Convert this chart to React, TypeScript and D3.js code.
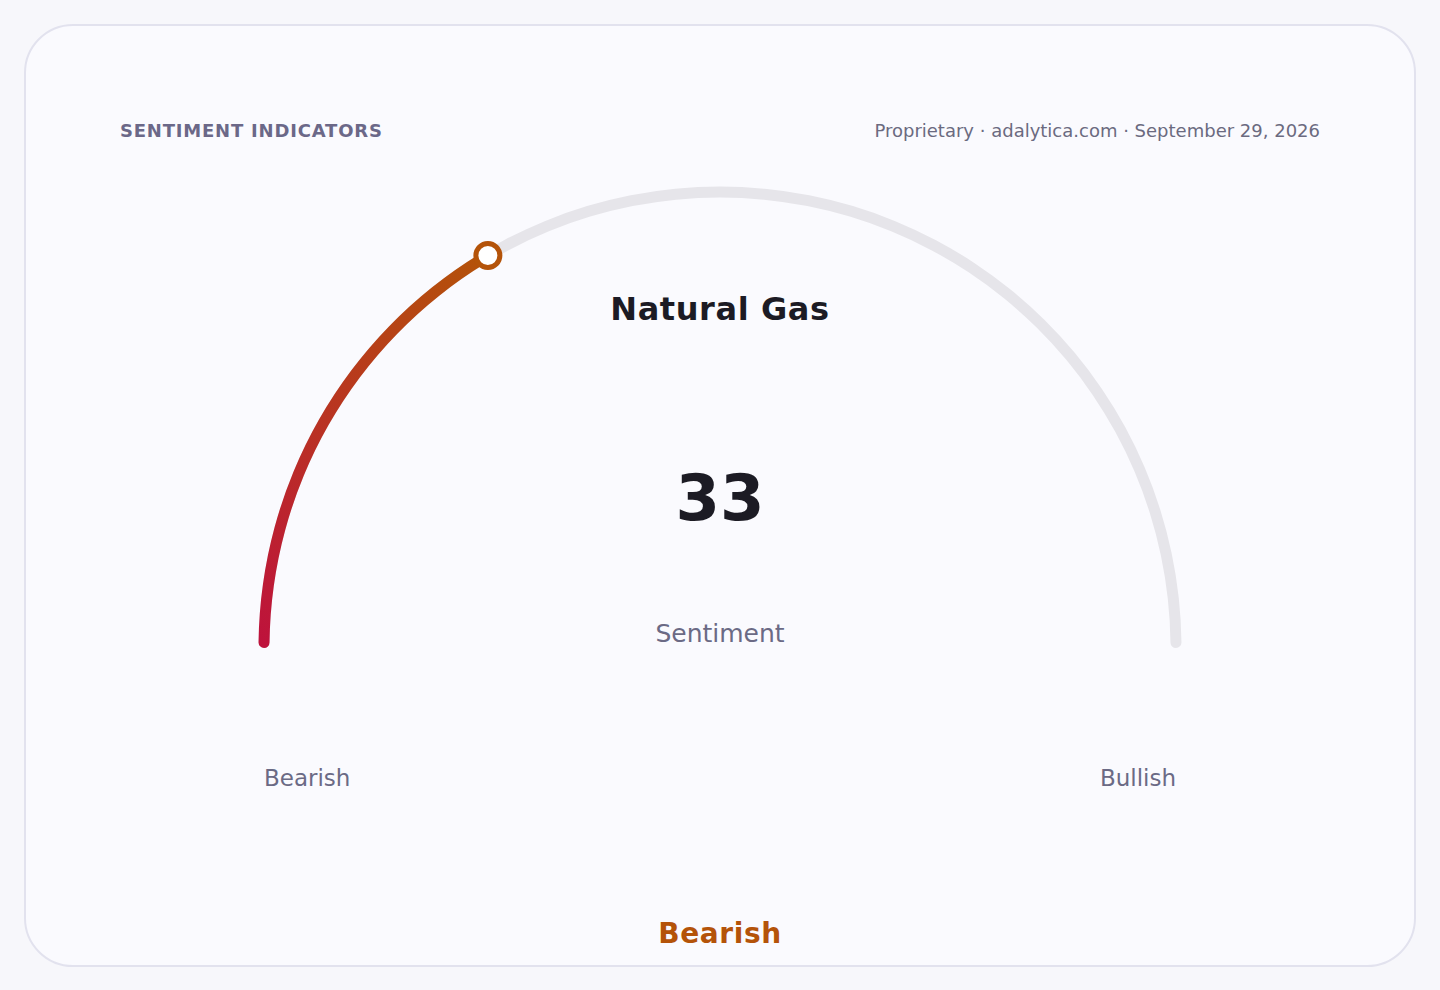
import * as d3 from "d3";

const title = "SENTIMENT INDICATORS";
const source = "Proprietary · adalytica.com · September 29, 2026";
const assetName = "Natural Gas";
const valueLabel = "Sentiment";
const scaleDomain = [0, 100];
const sentimentValue = [33];
const endLabels = ["Bearish", "Bullish"];
const verdict = ["Bearish"];
const gradientStops = ["#be123c", "#b45309"];

const W = 1440;
const H = 990;
const FONT = "'DejaVu Sans', Verdana, sans-serif";

export default function App() {
  const cx = 720;
  const cy = 648;
  const r = 456;
  const thick = 11;

  const angle = d3
    .scaleLinear()
    .domain(scaleDomain)
    .range([-Math.PI / 2, Math.PI / 2]);

  const value = sentimentValue[0];
  const arc = d3
    .arc<{ s: number; e: number }>()
    .innerRadius(r - thick / 2)
    .outerRadius(r + thick / 2)
    .startAngle((d) => d.s)
    .endAngle((d) => d.e)
    .cornerRadius(thick / 2);

  const track = arc({ s: angle(scaleDomain[0]), e: angle(scaleDomain[1]) }) || "";
  const filled = arc({ s: angle(scaleDomain[0]), e: angle(value) }) || "";

  // marker position on the arc
  const a = angle(value);
  const mx = r * Math.sin(a);
  const my = -r * Math.cos(a);
  const sx = r * Math.sin(angle(scaleDomain[0]));
  const sy = -r * Math.cos(angle(scaleDomain[0]));

  return (
    <div style={{ position: "absolute", left: 0, top: 0, width: W, height: H, background: "#f7f7fb" }}>
      <svg width={W} height={H} style={{ display: "block" }} fontFamily={FONT}>
        <defs>
          <linearGradient id="valGrad" gradientUnits="userSpaceOnUse" x1={sx} y1={sy} x2={mx} y2={my}>
            <stop offset="0%" stopColor={gradientStops[0]} />
            <stop offset="100%" stopColor={gradientStops[1]} />
          </linearGradient>
        </defs>
        <rect x={25} y={25} width={W - 50} height={H - 49} rx={48} fill="#fafafe" stroke="#e2e2ee" strokeWidth={2} />

        <text x={120} y={137} fontSize={18} fontWeight="bold" fill="#6b6888" letterSpacing={0.8}>
          {title}
        </text>
        <text x={1320} y={137} fontSize={18} fill="#6b6a80" textAnchor="end">
          {source}
        </text>

        <g transform={`translate(${cx},${cy})`}>
          <path d={track} fill="#e6e5ea" />
          <path d={filled} fill="url(#valGrad)" />
          <circle cx={mx} cy={my} r={12} fill="#ffffff" stroke={gradientStops[1]} strokeWidth={5} />
        </g>

        <text x={cx} y={320} fontSize={32} fontWeight="bold" fill="#1c1b24" textAnchor="middle" letterSpacing={0.6}>
          {assetName}
        </text>
        <text x={cx} y={520} fontSize={64} fontWeight="bold" fill="#1c1b24" textAnchor="middle">
          {value}
        </text>
        <text x={cx} y={642} fontSize={25} fill="#6b6a85" textAnchor="middle">
          {valueLabel}
        </text>

        <text x={cx - r} y={786} fontSize={23} fill="#6b6a85">
          {endLabels[0]}
        </text>
        <text x={cx + r} y={786} fontSize={23} fill="#6b6a85" textAnchor="end">
          {endLabels[1]}
        </text>

        <text x={cx} y={943} fontSize={28} fontWeight="bold" fill={gradientStops[1]} textAnchor="middle" letterSpacing={0.6}>
          {verdict[0]}
        </text>
      </svg>
    </div>
  );
}
